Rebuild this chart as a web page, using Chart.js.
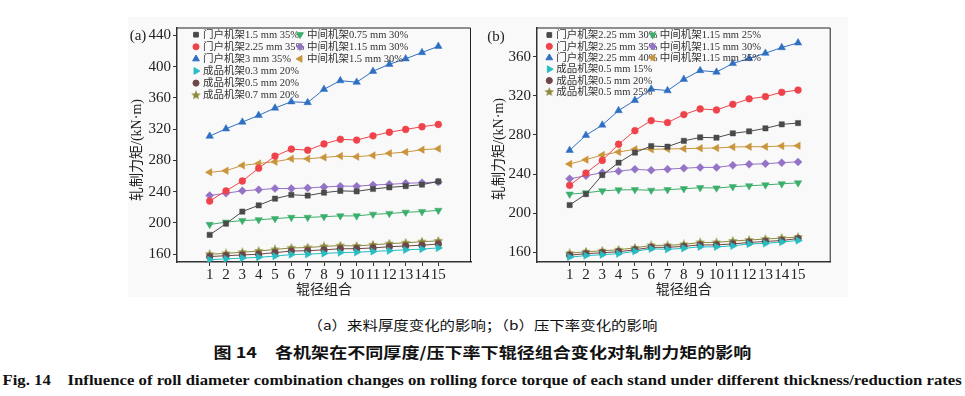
<!DOCTYPE html>
<html>
<head>
<meta charset="utf-8">
<script src="https://cdn.jsdelivr.net/npm/chart.js"></script>
<style>
  body { margin: 0; width: 965px; height: 396px; background: #fff; position: relative; overflow: hidden; }
  #panel { position: absolute; left: 128px; top: 17px; width: 720px; height: 280px; background: #f9f9f9; }
  canvas { position: absolute; }
  #chartA { left: 120px; top: 15px; }
  #chartB { left: 480px; top: 15px; }
  .cap { position: absolute; left: 0; width: 965px; height: 18px; line-height: 18px; text-align: center; white-space: nowrap; color: #111; }
  .cap span { display: inline-block; transform-origin: center; }
</style>
</head>
<body>
<div id="panel"></div>
<canvas id="chartA" width="360" height="285"></canvas>
<canvas id="chartB" width="370" height="285"></canvas>
<div class="cap" style="top:316px; font-size:13px; font-family:'Noto Sans CJK SC';"><span data-w="350">（a）来料厚度变化的影响；（b）压下率变化的影响</span></div>
<div class="cap" style="top:343px; font-size:15px; font-weight:bold; font-family:'Noto Sans CJK SC';"><span data-w="538">图 14　各机架在不同厚度/压下率下辊径组合变化对轧制力矩的影响</span></div>
<div class="cap" style="top:371px; font-size:15px; font-weight:bold; font-family:'Liberation Serif';"><span data-w="959">Fig. 14　Influence of roll diameter combination changes on rolling force torque of each stand under different thickness/reduction rates</span></div>

<script>
// roll diameter combinations (x axis)
const combos = [1, 2, 3, 4, 5, 6, 7, 8, 9, 10, 11, 12, 13, 14, 15];
const yTicksA = [160, 200, 240, 280, 320, 360, 400, 440];
const yTicksB = [160, 200, 240, 280, 320, 360];

// (a) thickness change
const labelsA = ['门户机架1.5 mm 35%', '门户机架2.25 mm 35%', '门户机架3 mm 35%',
  '中间机架0.75 mm 30%', '中间机架1.15 mm 30%', '中间机架1.5 mm 30%',
  '成品机架0.3 mm 20%', '成品机架0.5 mm 20%', '成品机架0.7 mm 20%'];
const aGate15 = [184.7, 199, 214.5, 222.5, 231, 236, 235, 238.7, 241, 240.4, 243.4, 245.5, 247, 249, 253];
const aGate225 = [228, 241, 253.6, 270, 285.5, 294.5, 293, 301, 307, 306, 311.4, 316, 319.6, 323, 326];
const aGate3 = [311, 320.4, 329, 337.6, 347, 355, 354, 371, 382, 380, 394, 403, 410, 418, 426];
const aMid075 = [198, 201, 203, 204, 205.5, 207, 207, 208, 209, 209, 211, 212, 213.6, 214.5, 216];
const aMid115 = [235, 238, 241, 242.5, 244, 244, 244.7, 246, 247, 247, 248.5, 249.4, 250.6, 251.5, 252.3];
const aMid15 = [264.7, 266.8, 273.6, 276, 278.3, 282, 282, 283.8, 285.5, 284.7, 286.4, 289, 290.6, 293.6, 295];
const aFin03 = [153, 154, 155, 156, 157.5, 159.5, 160, 161, 162, 162.5, 163.5, 164.5, 165.5, 166.5, 168];
const aFin05 = [157, 158, 159, 160, 162, 164, 164.5, 165.5, 167, 167, 168, 169.5, 170.5, 171.5, 173];
const aFin07 = [160, 161, 162.5, 164, 166, 168, 168.5, 170, 171, 170.5, 172, 173.5, 174.5, 176, 177];

// (b) reduction rate change
const labelsB = ['门户机架2.25 mm 30%', '门户机架2.25 mm 35%', '门户机架2.25 mm 40%',
  '中间机架1.15 mm 25%', '中间机架1.15 mm 30%', '中间机架1.15 mm 35%',
  '成品机架0.5 mm 15%', '成品机架0.5 mm 20%', '成品机架0.5 mm 25%'];
const bGate30 = [208.3, 219.5, 239, 251.6, 262, 268.7, 268, 274, 277.5, 277.2, 281.7, 283.7, 286.8, 290.9, 292.2];
const bGate35 = [228.5, 241, 254, 270.5, 284.4, 294.7, 292.7, 300.9, 306.7, 305.6, 311.4, 317, 319.3, 323.7, 326];
const bGate40 = [264.3, 279.7, 290.2, 305, 315.4, 327, 325.4, 337, 346, 344.4, 353.2, 358.3, 363.7, 369.5, 374.3];
const bMid25 = [219.4, 220.8, 222.8, 223.8, 224, 223.4, 224, 225, 226, 225.7, 227, 228, 228.9, 230, 231];
const bMid30 = [235.2, 238.3, 241.4, 243, 244.8, 244, 245, 246, 246.8, 246.8, 248.9, 250, 250.6, 251.7, 252.4];
const bMid35 = [250.3, 254.7, 259.5, 262.6, 265.3, 265.3, 265.7, 266, 266.4, 266.7, 267.7, 268, 268, 268.7, 269];
const bFin15 = [155, 156.5, 157.5, 158.5, 161, 163.5, 163, 164, 165.5, 165.5, 166.5, 168.5, 169, 170.5, 172];
const bFin20 = [157, 158.5, 159.5, 160.5, 162.5, 165, 165, 166, 167.5, 167.5, 168.5, 170, 171, 172, 174];
const bFin25 = [159, 160.5, 161.5, 162.5, 164.5, 167, 167, 168, 170, 170, 171.5, 172.5, 173.5, 174.5, 175.5];

// filled five-point star, Chart.js has none
function makeStar(color, size) {
  const c = document.createElement('canvas');
  c.width = c.height = size;
  const g = c.getContext('2d');
  const R = size / 2, r = R * 0.45;
  g.beginPath();
  for (let i = 0; i < 10; i++) {
    const ang = -Math.PI / 2 + i * Math.PI / 5;
    const rr = i % 2 ? r : R;
    g.lineTo(R + rr * Math.cos(ang), R + rr * Math.sin(ang));
  }
  g.closePath();
  g.fillStyle = color;
  g.fill();
  return c;
}

const styles = [
  { color: '#4a4a4a', point: 'rect', rot: 0, r: 3.7 },
  { color: '#ef434b', point: 'circle', rot: 0, r: 3.4 },
  { color: '#2f6fc2', point: 'triangle', rot: 0, r: 4.3 },
  { color: '#3cae6c', point: 'triangle', rot: 180, r: 4.3 },
  { color: '#9472c6', point: 'rectRot', rot: 0, r: 4 },
  { color: '#c9953b', point: 'triangle', rot: -90, r: 4.3 },
  { color: '#26bdc3', point: 'triangle', rot: 90, r: 4.3 },
  { color: '#6c4747', point: 'circle', rot: 0, r: 3.4 },
  { color: '#8b8a3b', point: makeStar('#8b8a3b', 10), rot: 0, r: 5 }
];

function buildDatasets(labels, series) {
  return series.map((vals, i) => ({
    label: labels[i],
    data: vals.map((v, k) => ({ x: combos[k], y: v })),
    borderColor: styles[i].color,
    backgroundColor: styles[i].color,
    borderWidth: 1,
    pointStyle: styles[i].point,
    pointRotation: styles[i].rot,
    pointRadius: styles[i].r,
    pointBorderWidth: 0.5,
    tension: 0
  }));
}

// frame on top/right, panel letter, y title and in-plot legend in two columns
const decorPlugin = {
  id: 'decor',
  afterDraw(chart, args, opts) {
    const { ctx, chartArea: a } = chart;
    ctx.save();
    ctx.strokeStyle = '#222';
    ctx.lineWidth = 1;
    ctx.beginPath();
    ctx.moveTo(a.left, a.top + 0.5);
    ctx.lineTo(a.right - 0.5, a.top + 0.5);
    ctx.lineTo(a.right - 0.5, a.bottom);
    ctx.stroke();

    ctx.fillStyle = '#222';
    ctx.font = '15px "Liberation Serif"';
    ctx.textAlign = 'center';
    ctx.textBaseline = 'middle';
    ctx.fillText(opts.letter, opts.letterX, opts.letterY);

    ctx.save();
    ctx.translate(opts.titleX, opts.titleY);
    ctx.rotate(-Math.PI / 2);
    ctx.font = '14px "Liberation Serif", "Noto Sans CJK SC"';
    ctx.fillText('轧制力矩/(kN·m)', 0, 0);
    ctx.restore();

    ctx.font = '10.5px "Liberation Serif", "Noto Sans CJK SC"';
    ctx.textAlign = 'left';
    opts.cols.forEach(col => {
      col.rows.forEach((idx, row) => {
        const ds = chart.data.datasets[idx];
        const y = opts.top + row * opts.step;
        ctx.fillStyle = ds.backgroundColor;
        ctx.strokeStyle = ds.borderColor;
        Chart.helpers.drawPoint(ctx, {
          pointStyle: ds.pointStyle, rotation: ds.pointRotation,
          radius: ds.pointRadius * 0.9, borderWidth: 0.5
        }, col.x, y);
        ctx.fillStyle = '#333';
        ctx.fillText(ds.label, col.x + 7, y + 0.5);
      });
    });
    ctx.restore();
  }
};

function makeOptions(yMin, yMax, yTicks, rightPad, decor) {
  return {
    responsive: false,
    animation: false,
    devicePixelRatio: 1,
    layout: { padding: { left: 0, right: rightPad, top: 12.5, bottom: 0 } },
    plugins: { legend: { display: false }, tooltip: { enabled: false }, decor: decor },
    scales: {
      x: {
        type: 'linear', min: -1, max: 17,
        afterBuildTicks: s => { s.ticks = combos.map(v => ({ value: v })); },
        afterFit: s => { s.height = 38; },
        grid: { drawOnChartArea: false, drawTicks: true, tickLength: 4, color: '#333' },
        border: { color: '#333', width: 1.5 },
        ticks: { font: { family: 'Liberation Serif', size: 15 }, color: '#222', padding: 0, maxRotation: 0, autoSkip: false },
        title: { display: true, text: '辊径组合', color: '#222', font: { family: 'Noto Sans CJK SC', size: 14 }, padding: { top: 0, bottom: 3 } }
      },
      y: {
        min: yMin, max: yMax,
        afterBuildTicks: s => { s.ticks = yTicks.map(v => ({ value: v })); },
        afterFit: s => { s.width = 57; },
        grid: { drawOnChartArea: false, drawTicks: true, tickLength: 4, color: '#333' },
        border: { color: '#333', width: 1.5 },
        ticks: { font: { family: 'Liberation Serif', size: 15 }, color: '#222', padding: 2 },
        title: { display: false }
      }
    }
  };
}

new Chart(document.getElementById('chartA'), {
  type: 'line',
  data: { datasets: buildDatasets(labelsA, [aGate15, aGate225, aGate3, aMid075, aMid115, aMid15, aFin03, aFin05, aFin07]) },
  options: makeOptions(150, 450, yTicksA, 9, {
    letter: '(a)', letterX: 18, letterY: 21,
    titleX: 17, titleY: 135,
    top: 19.7, step: 12.1,
    cols: [{ x: 76, rows: [0, 1, 2, 6, 7, 8] }, { x: 180, rows: [3, 4, 5] }]
  }),
  plugins: [decorPlugin]
});

new Chart(document.getElementById('chartB'), {
  type: 'line',
  data: { datasets: buildDatasets(labelsB, [bGate30, bGate35, bGate40, bMid25, bMid30, bMid35, bFin15, bFin20, bFin25]) },
  options: makeOptions(150, 390, yTicksB, 19.3, {
    letter: '(b)', letterX: 16, letterY: 22,
    titleX: 19.5, titleY: 134,
    top: 20, step: 11.4,
    cols: [{ x: 69.3, rows: [0, 1, 2, 6, 7, 8] }, { x: 172.7, rows: [3, 4, 5] }]
  }),
  plugins: [decorPlugin]
});

// squeeze caption lines to the printed widths
document.querySelectorAll('.cap span').forEach(el => {
  const w = +el.dataset.w;
  el.style.transform = 'scaleX(' + (w / el.offsetWidth) + ')';
});
</script>
</body>
</html>
